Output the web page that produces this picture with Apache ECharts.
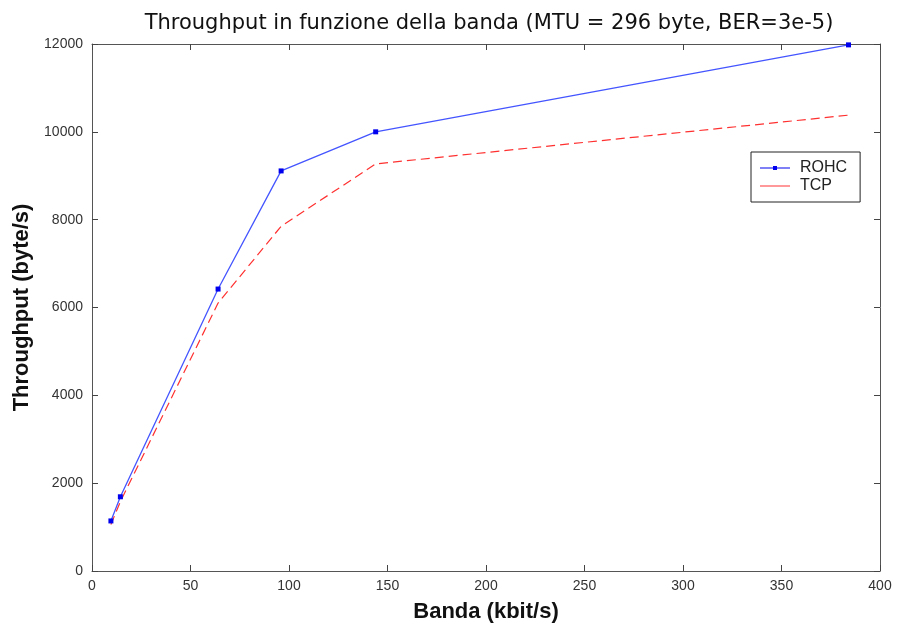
<!DOCTYPE html>
<html><head><meta charset="utf-8">
<script src="https://cdn.jsdelivr.net/npm/echarts@6/dist/echarts.min.js"></script>
<style>html,body{margin:0;padding:0;background:#fff}#c{width:899px;height:625px}</style>
</head><body><div id="c"></div>
<script>
const banda = [9.6, 14.4, 64, 96, 144, 384];
const rohc = [1140, 1690, 6420, 9110, 10000, 11980];
const tcp = [1060, 1580, 6100, 7850, 9270, 10380];
const xTicks = [0, 50, 100, 150, 200, 250, 300, 350, 400];
const yTicks = [0, 2000, 4000, 6000, 8000, 10000, 12000];

const chart = echarts.init(document.getElementById('c'));
const font = 'Liberation Sans, Arial, sans-serif';
const lbl = {color:'#333', fontSize:14, fontFamily:font};
const line = {show:true, onZero:false, lineStyle:{color:'#555', width:1}};
const tick = {show:true, inside:true, length:6, lineStyle:{color:'#444'}};
chart.setOption({
  animation:false,
  title:{text:'Throughput in funzione della banda (MTU = 296 byte, BER=3e-5)', left:484, top:8, textAlign:'center',
    textStyle:{fontSize:21, fontWeight:'normal', fontFamily:'DejaVu Sans, sans-serif', color:'#111'}},
  grid:{left:92, right:19, top:44, bottom:54, containLabel:false, outerBoundsMode:'none'},
  legend:{show:true, orient:'vertical', left:751, top:152, backgroundColor:'#fff', borderColor:'#222', borderWidth:1,
    padding:[8,13,8,9], itemGap:2, itemWidth:30, itemHeight:14,
    textStyle:{fontSize:16, lineHeight:16, fontFamily:font, color:'#222', padding:[0,0,0,5]},
    data:[{name:'ROHC', icon:'path://M0,6.5L30,6.5L30,7.5L0,7.5Z M13,5L17,5L17,9L13,9Z'},
          {name:'TCP', icon:'path://M0,6.5L30,6.5L30,7.5L0,7.5Z'}]},
  xAxis:[{type:'value', min:0, max:400, interval:50, axisLine:line, axisTick:tick, splitLine:{show:false},
    axisLabel:Object.assign({margin:8, formatter:v=>xTicks.includes(v)?String(v):''}, lbl),
    name:'Banda (kbit/s)', nameLocation:'middle', nameGap:30,
    nameTextStyle:{fontSize:22, fontWeight:'bold', fontFamily:font, color:'#111'}},
    {type:'value', position:'top', min:0, max:400, interval:50, axisLine:line, axisTick:tick, axisLabel:{show:false}, splitLine:{show:false}}],
  yAxis:[{type:'value', min:0, max:12000, interval:2000, axisLine:line, axisTick:tick, splitLine:{show:false},
    axisLabel:Object.assign({margin:9, formatter:v=>yTicks.includes(v)?String(v):''}, lbl),
    name:'Throughput (byte/s)', nameLocation:'middle', nameGap:56,
    nameTextStyle:{fontSize:22, fontWeight:'bold', fontFamily:font, color:'#111'}},
    {type:'value', position:'right', min:0, max:12000, interval:2000, axisLine:line, axisTick:tick, axisLabel:{show:false}, splitLine:{show:false}}],
  series:[
    {name:'ROHC', type:'line', data:banda.map((b,i)=>[b,rohc[i]]), symbol:'rect', symbolSize:5,
      itemStyle:{color:'#0000ee'}, lineStyle:{color:'#4455ff', width:1.3}},
    {name:'TCP', type:'line', data:banda.map((b,i)=>[b,tcp[i]]), symbol:'none',
      itemStyle:{color:'#ff3030'}, lineStyle:{color:'#ff3030', width:1.2, type:[9,5]}}
  ]
});
</script></body></html>
